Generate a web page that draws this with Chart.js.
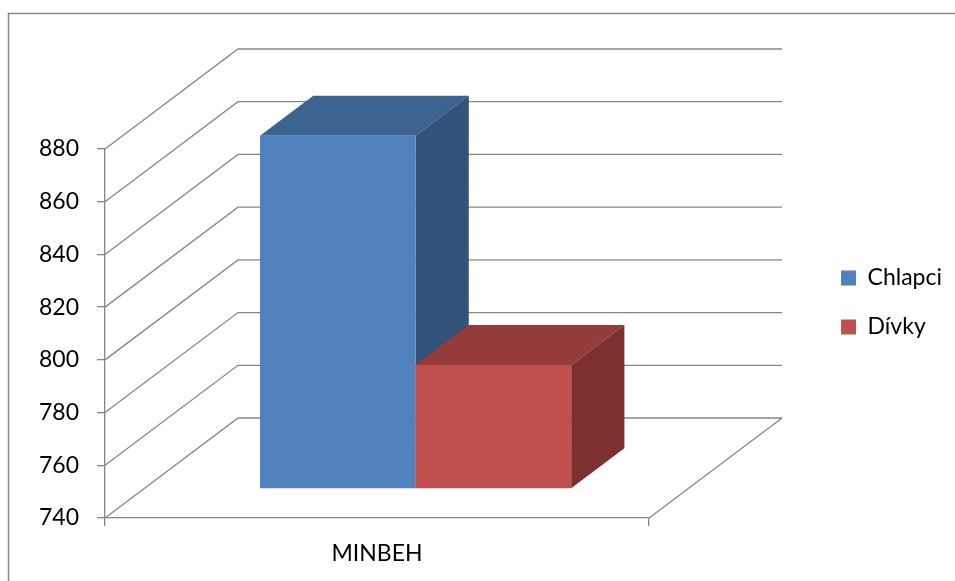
<!DOCTYPE html>
<html>
<head>
<meta charset="utf-8">
<script src="https://cdn.jsdelivr.net/npm/chart.js@4/dist/chart.umd.min.js"></script>
<style>
html, body { margin: 0; padding: 0; background: #fff; }
</style>
</head>
<body>
<canvas id="myChart" width="955" height="581"></canvas>
<script>
// data
var categories = ['MINBEH'];
var seriesNames = ['Chlapci', 'Dívky'];
var chlapci = [874];
var divky = [787];
var yMin = 740, yMax = 880, yStep = 20;

var frontColors = ['#4F81BD', '#C0504D'];
var topColors = ['#3D6491', '#943C3A'];
var sideColors = ['#32537A', '#7C302F'];

// floor depth vector and where the bars sit in it
var DX = 133, DY = -100;
var FRONT = 0.29, DEPTH = 0.4;
var GRID = '#868686';

var box3d = {
  id: 'box3d',
  // outer frame
  beforeDraw: function(chart) {
    var c = chart.ctx;
    c.save();
    c.strokeStyle = GRID;
    c.lineWidth = 1.5;
    c.beginPath();
    c.moveTo(8.5, chart.height);
    c.lineTo(8.5, 13.5);
    c.lineTo(chart.width, 13.5);
    c.stroke();
    c.restore();
  },
  // side wall, back wall and floor edge
  beforeDatasetsDraw: function(chart) {
    var a = chart.chartArea, y = chart.scales.y, c = chart.ctx;
    c.save();
    c.strokeStyle = GRID;
    c.lineWidth = 1.3;
    c.beginPath();
    y.ticks.forEach(function(t) {
      var py = y.getPixelForValue(t.value);
      c.moveTo(a.left, py);
      c.lineTo(a.left + DX, py + DY);
      c.lineTo(a.right + DX, py + DY);
    });
    c.moveTo(a.right, a.bottom);
    c.lineTo(a.right + DX, a.bottom + DY);
    c.stroke();
    c.restore();
  },
  // bars are drawn below, in dataset order, so later boxes cover earlier sides
  beforeDatasetDraw: function() {
    return false;
  },
  afterDatasetsDraw: function(chart) {
    var c = chart.ctx;
    var bx = DEPTH * DX, by = DEPTH * DY;
    c.save();
    c.translate(FRONT * DX, FRONT * DY);
    chart.data.datasets.forEach(function(ds, i) {
      var meta = chart.getDatasetMeta(i);
      if (meta.hidden) return;
      meta.data.forEach(function(bar) {
        var p = bar.getProps(['x', 'y', 'base', 'width']);
        var l = p.x - p.width / 2, r = p.x + p.width / 2;
        c.fillStyle = topColors[i];
        c.beginPath();
        c.moveTo(l, p.y);
        c.lineTo(l + bx, p.y + by);
        c.lineTo(r + bx, p.y + by);
        c.lineTo(r, p.y);
        c.closePath();
        c.fill();
        c.fillStyle = sideColors[i];
        c.beginPath();
        c.moveTo(r, p.y);
        c.lineTo(r + bx, p.y + by);
        c.lineTo(r + bx, p.base + by);
        c.lineTo(r, p.base);
        c.closePath();
        c.fill();
        bar.draw(c);
      });
    });
    c.restore();
  }
};

Chart.defaults.font.family = 'Lato, "Open Sans", sans-serif';
Chart.defaults.color = '#000';

var ctx = document.getElementById('myChart').getContext('2d');

window.chart = new Chart(ctx, {
  type: 'bar',
  data: {
    labels: categories,
    datasets: [{
      label: seriesNames[0],
      data: chlapci,
      backgroundColor: frontColors[0],
      borderWidth: 0,
      base: yMin
    }, {
      label: seriesNames[1],
      data: divky,
      backgroundColor: frontColors[1],
      borderWidth: 0,
      base: yMin
    }]
  },
  plugins: [box3d],
  options: {
    responsive: false,
    animation: false,
    devicePixelRatio: 1,
    categoryPercentage: 0.572,
    barPercentage: 1,
    layout: {
      padding: { left: 10, top: 24, right: 3, bottom: 0 }
    },
    scales: {
      x: {
        grid: { drawOnChartArea: false, tickLength: 8, color: GRID, lineWidth: 1.3 },
        border: { color: GRID, width: 1.3 },
        ticks: { font: { size: 23 }, padding: 14 },
        afterFit: function(s) { s.height = 63; }
      },
      y: {
        min: yMin,
        max: yMax,
        grid: { drawOnChartArea: false, tickLength: 8, color: GRID, lineWidth: 1.3 },
        border: { color: GRID, width: 1.3 },
        ticks: { stepSize: yStep, font: { size: 23 }, padding: 18 },
        afterFit: function(s) { s.width = 95; }
      },
      // empty axes that only hold room for the back wall and the legend gap
      roomTop: {
        type: 'linear', position: 'top',
        grid: { display: false }, border: { display: false }, ticks: { display: false },
        afterFit: function(s) { s.height = 125; }
      },
      roomRight: {
        type: 'linear', position: 'right',
        grid: { display: false }, border: { display: false }, ticks: { display: false },
        afterFit: function(s) { s.width = 166; }
      }
    },
    plugins: {
      legend: {
        position: 'right',
        labels: { boxWidth: 15, boxHeight: 15, padding: 26, font: { size: 23 } }
      },
      tooltip: { enabled: false }
    }
  }
});
</script>
</body>
</html>
